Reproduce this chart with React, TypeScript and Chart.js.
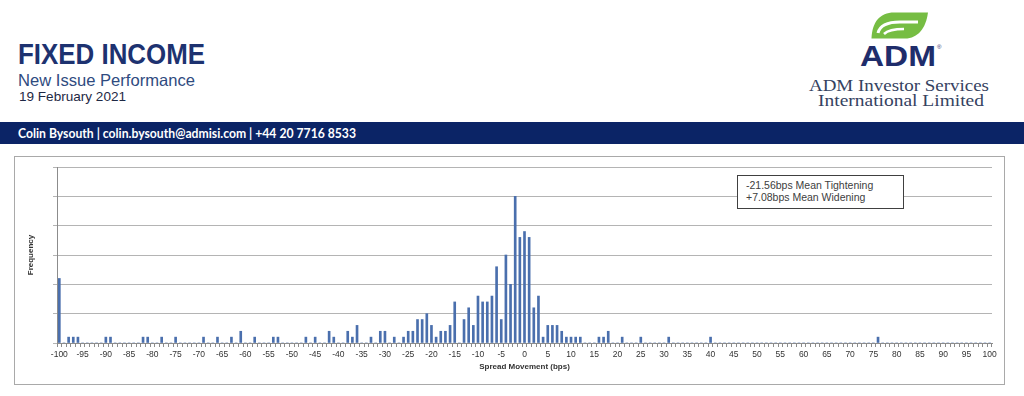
import React, { useEffect, useRef } from 'react';
import { Chart, registerables } from 'chart.js';

Chart.register(...registerables);

// Spread movement axis (bps)
const axisMin = -100;
const axisMax = 100;
const labelStep = 5;

// Non-empty histogram bins: spread movement (bps) and frequency
const barSpreads = [
  -100, -98, -97, -96, -90, -89, -82, -81, -78, -75, -69, -66, -63, -61, -58,
  -54, -53, -47, -45, -42, -41, -38, -37, -36, -33, -31, -30, -28, -26, -25,
  -24, -23, -22, -21, -20, -19, -18, -17, -16, -15, -13, -12, -11, -10, -9,
  -8, -7, -6, -5, -4, -3, -2, -1, 0, 1, 2, 3, 4, 5, 6, 7, 8, 9, 10, 11, 12,
  16, 17, 18, 21, 25, 31, 40, 76,
];
const barCounts = [
  11, 1, 1, 1, 1, 1, 1, 1, 1, 1, 1, 1, 1, 2, 1,
  1, 1, 1, 1, 2, 1, 2, 1, 3, 1, 2, 2, 1, 1, 2,
  2, 4, 4, 5, 3, 1, 2, 2, 3, 7, 4, 6, 3, 8, 7,
  7, 8, 13, 4, 15, 10, 25, 18, 19, 18, 6, 8, 1, 3, 3, 3, 2, 1, 1, 1, 1,
  1, 1, 2, 1, 1, 1, 1, 1,
];

const yMax = 30;
const yStep = 5;

const annotationLines = ['-21.56bps Mean Tightening', '+7.08bps Mean Widening'];

const categories: number[] = [];
for (let v = axisMin; v <= axisMax; v++) categories.push(v);
const frequencies = categories.map((c) => {
  const i = barSpreads.indexOf(c);
  return i >= 0 ? barCounts[i] : 0;
});

export default function App() {
  const canvasRef = useRef<HTMLCanvasElement>(null);

  useEffect(() => {
    const canvas = canvasRef.current;
    if (!canvas) return;
    const chart = new Chart(canvas, {
      type: 'bar',
      data: {
        labels: categories.map(String),
        datasets: [
          {
            data: frequencies,
            backgroundColor: '#4a6fad',
            borderWidth: 0,
            barThickness: 2,
          },
        ],
      },
      options: {
        animation: false,
        responsive: false,
        maintainAspectRatio: false,
        devicePixelRatio: 1,
        layout: { padding: { left: 0, right: 13, top: 11, bottom: 0 } },
        plugins: {
          legend: { display: false },
          tooltip: { enabled: false },
        },
        scales: {
          x: {
            type: 'category',
            offset: true,
            grid: {
              display: true,
              drawOnChartArea: false,
              drawTicks: true,
              tickLength: 4,
              color: '#8c8c8c',
            },
            border: { display: true, color: '#8c8c8c' },
            ticks: {
              autoSkip: false,
              maxRotation: 0,
              minRotation: 0,
              padding: 3,
              color: '#333333',
              font: { family: 'Liberation Sans', size: 8.5 },
              callback: (_v: any, i: number) =>
                categories[i] % labelStep === 0 ? String(categories[i]) : '',
            },
            title: {
              display: true,
              text: 'Spread Movement (bps)',
              color: '#333333',
              font: { family: 'Liberation Sans', size: 8, weight: 'bold' },
              padding: { top: 0, bottom: 12 },
            },
            afterFit: (s: any) => {
              s.height = 41;
            },
          },
          y: {
            min: 0,
            max: yMax,
            ticks: { display: false, stepSize: yStep },
            grid: { color: '#b4b4b4', tickLength: 4, drawTicks: true },
            border: { display: true, color: '#8c8c8c' },
            title: {
              display: true,
              text: 'Frequency',
              color: '#333333',
              font: { family: 'Liberation Sans', size: 8, weight: 'bold' },
              padding: { top: 12, bottom: 0 },
            },
            afterFit: (s: any) => {
              s.width = 43;
            },
          },
        },
      } as any,
    });
    return () => chart.destroy();
  }, []);

  return (
    <div
      style={{
        position: 'absolute',
        left: 0,
        top: 0,
        width: 1024,
        height: 396,
        background: '#ffffff',
        overflow: 'hidden',
        fontFamily: '"Liberation Sans", Arial, sans-serif',
      }}
    >
      <svg
        width={1024}
        height={150}
        style={{ position: 'absolute', left: 0, top: 0 }}
      >
        <text
          x={18}
          y={64}
          fontFamily="Liberation Sans"
          fontWeight="bold"
          fontSize={29}
          fill="#1d3270"
          textLength={187}
          lengthAdjust="spacingAndGlyphs"
        >
          FIXED INCOME
        </text>
        <text
          x={18}
          y={86}
          fontFamily="Liberation Sans"
          fontSize={16.5}
          fill="#2f4b80"
          textLength={177}
          lengthAdjust="spacingAndGlyphs"
        >
          New Issue Performance
        </text>
        <text
          x={19}
          y={101}
          fontFamily="Liberation Sans"
          fontSize={13.5}
          fill="#1e2844"
          textLength={107}
          lengthAdjust="spacingAndGlyphs"
        >
          19 February 2021
        </text>

        {/* logo leaf */}
        <path
          d="M928 12.5 L894 12.5 C880 12.5 872 22 871.5 38.5 L905 38.5 C918 38.5 926 28 928 12.5 Z"
          fill="#76bd43"
        />
        <path
          d="M878 33 C880 25 888 22 900 22 L918 22"
          stroke="#ffffff"
          strokeWidth={3}
          fill="none"
        />
        <path
          d="M884 34 C888 30 894 29 904 29"
          stroke="#ffffff"
          strokeWidth={2.5}
          fill="none"
        />
        <text
          x={860}
          y={66}
          fontFamily="Liberation Sans"
          fontWeight={900}
          fontSize={30}
          fill="#1f2d6b"
          textLength={76}
          lengthAdjust="spacingAndGlyphs"
        >
          ADM
        </text>
        <text x={937} y={49} fontFamily="Liberation Sans" fontSize={6} fill="#1f2d6b">
          ®
        </text>
        <text
          x={809}
          y={91}
          fontFamily="Liberation Serif"
          fontSize={17}
          fill="#35425f"
          textLength={180}
          lengthAdjust="spacingAndGlyphs"
        >
          ADM Investor Services
        </text>
        <text
          x={818}
          y={106}
          fontFamily="Liberation Serif"
          fontSize={17}
          fill="#35425f"
          textLength={166}
          lengthAdjust="spacingAndGlyphs"
        >
          International Limited
        </text>

        {/* contact banner */}
        <rect x={0} y={122} width={1024} height={22} fill="#0b2466" />
        <text
          x={18}
          y={138}
          fontFamily="Lato"
          fontWeight="bold"
          fontSize={12.5}
          fill="#ffffff"
          textLength={338}
          lengthAdjust="spacingAndGlyphs"
        >
          Colin Bysouth | colin.bysouth@admisi.com | +44 20 7716 8533
        </text>
      </svg>

      <canvas
        ref={canvasRef}
        width={991}
        height={228}
        style={{ position: 'absolute', left: 14, top: 156, width: 991, height: 228 }}
      />
      <div
        style={{
          position: 'absolute',
          left: 14,
          top: 156,
          width: 991,
          height: 229,
          boxSizing: 'border-box',
          border: '1px solid #a9a9a9',
          pointerEvents: 'none',
        }}
      />
      <div
        style={{
          position: 'absolute',
          left: 737,
          top: 175,
          width: 167,
          height: 34,
          boxSizing: 'border-box',
          border: '1px solid #404040',
          background: '#ffffff',
          paddingLeft: 8,
          paddingTop: 3,
          fontFamily: '"Liberation Sans", Arial, sans-serif',
          fontSize: 10.5,
          lineHeight: '12px',
          color: '#404040',
          whiteSpace: 'nowrap',
        }}
      >
        {annotationLines.map((l) => (
          <div key={l}>{l}</div>
        ))}
      </div>
    </div>
  );
}
